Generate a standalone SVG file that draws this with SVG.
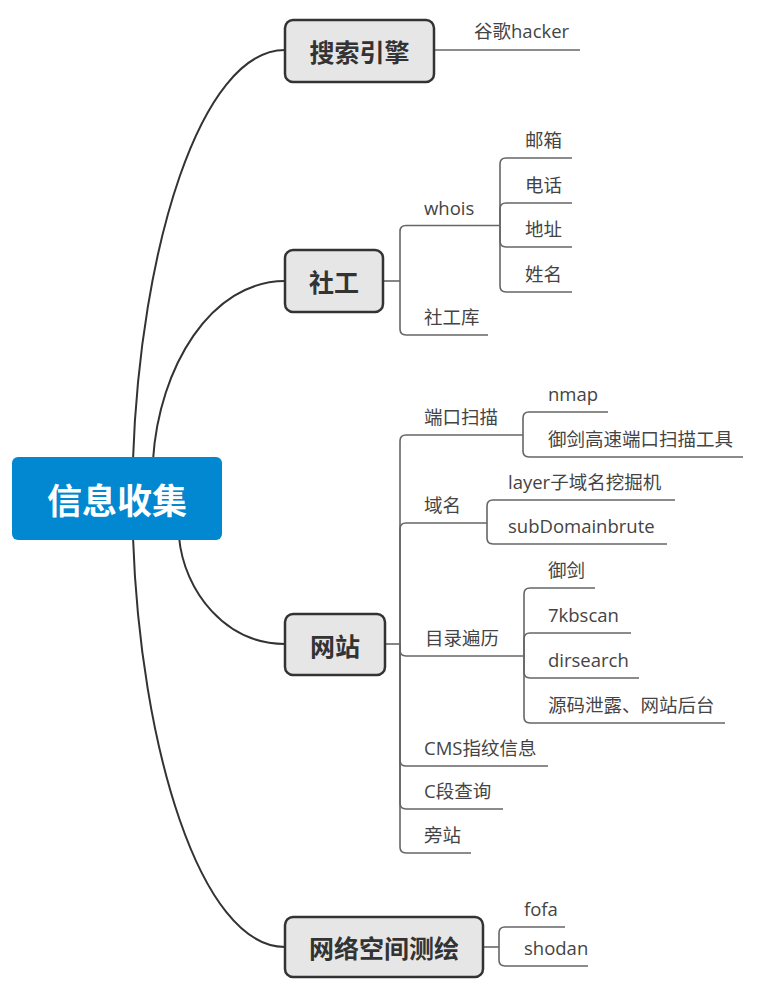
<svg xmlns="http://www.w3.org/2000/svg" width="758" height="993" viewBox="0 0 758 993">
<style>
.box{fill:#e6e6e6;stroke:#333;stroke-width:2.5}
.root{fill:#0288d1}
.rtxt{font-family:"Noto Sans CJK SC","Noto Sans",sans-serif;font-weight:bold;font-size:35px;fill:#fff;text-anchor:middle;dominant-baseline:central}
.btxt{font-family:"Noto Sans CJK SC","Noto Sans",sans-serif;font-weight:bold;font-size:25px;fill:#333;text-anchor:middle;dominant-baseline:central}
.leaf{font-family:"Open Sans","Noto Sans CJK SC",sans-serif;font-size:18.5px;fill:#444}
.curve{fill:none;stroke:#333;stroke-width:2}
.br{fill:none;stroke:#666;stroke-width:1.6}
</style>
<rect width="758" height="993" fill="#fff"/>
<g id="connectors">
<path class="curve" d="M133 460 C140 250 200 50 285 50"/>
<path class="curve" d="M153 460 C159 367 211 281 285 281"/>
<path class="curve" d="M179 537 C184 592 226 644 285 644"/>
<path class="curve" d="M133 537 C140 745 200 947 285 947"/>
<path class="br" d="M434 50 H580"/>
<path class="br" d="M383 281 H400"/>
<path class="br" d="M400 281 V231.5 Q400 225.5 406 225.5 H500"/>
<path class="br" d="M400 281 V329 Q400 335 406 335 H488"/>
<path class="br" d="M500 225.5 V164 Q500 158 506 158 H572"/>
<path class="br" d="M500 225.5 V209 Q500 203 506 203 H572"/>
<path class="br" d="M500 225.5 V241 Q500 247 506 247 H572"/>
<path class="br" d="M500 225.5 V286 Q500 292 506 292 H572"/>
<path class="br" d="M385 644 H400"/>
<path class="br" d="M400 644 V441 Q400 435 406 435 H523"/>
<path class="br" d="M400 644 V529 Q400 523 406 523 H487"/>
<path class="br" d="M400 644 V650 Q400 656 406 656 H524"/>
<path class="br" d="M400 644 V760 Q400 766 406 766 H548"/>
<path class="br" d="M400 644 V803 Q400 809 406 809 H503"/>
<path class="br" d="M400 644 V847 Q400 853 406 853 H471"/>
<path class="br" d="M523 435 V418 Q523 412 529 412 H608"/>
<path class="br" d="M523 435 V451 Q523 457 529 457 H743"/>
<path class="br" d="M487 523 V506 Q487 500 493 500 H675"/>
<path class="br" d="M487 523 V538 Q487 544 493 544 H667"/>
<path class="br" d="M524 656 V594 Q524 588 530 588 H595"/>
<path class="br" d="M524 656 V639 Q524 633 530 633 H631"/>
<path class="br" d="M524 656 V672 Q524 678 530 678 H639"/>
<path class="br" d="M524 656 V717 Q524 723 530 723 H725"/>
<path class="br" d="M483 947 H499"/>
<path class="br" d="M499 947 V933 Q499 927 505 927 H565"/>
<path class="br" d="M499 947 V960 Q499 966 505 966 H588"/>
</g>
<g id="root"><rect class="root" x="12" y="457" width="210" height="83" rx="6"/><text class="rtxt" x="117" y="498.5">信息收集</text></g>
<g id="search"><rect class="box" x="285" y="20" width="149" height="62" rx="8"/><text class="btxt" x="359.5" y="51">搜索引擎</text></g>
<g id="google"><text class="leaf" x="474" y="38">谷歌hacker</text></g>
<g id="social"><rect class="box" x="285" y="250" width="98" height="62" rx="8"/><text class="btxt" x="334" y="281">社工</text></g>
<g id="whois"><text class="leaf" x="424" y="215">whois</text></g>
<g id="email"><text class="leaf" x="525" y="147">邮箱</text></g>
<g id="phone"><text class="leaf" x="525" y="192">电话</text></g>
<g id="address"><text class="leaf" x="525" y="236">地址</text></g>
<g id="name"><text class="leaf" x="525" y="281">姓名</text></g>
<g id="sgk"><text class="leaf" x="424" y="324">社工库</text></g>
<g id="website"><rect class="box" x="285" y="614" width="100" height="61" rx="8"/><text class="btxt" x="335" y="644.5">网站</text></g>
<g id="portscan"><text class="leaf" x="424" y="424">端口扫描</text></g>
<g id="nmap"><text class="leaf" x="548" y="401">nmap</text></g>
<g id="yujianport"><text class="leaf" x="548" y="446">御剑高速端口扫描工具</text></g>
<g id="domain"><text class="leaf" x="424" y="512">域名</text></g>
<g id="layer"><text class="leaf" x="508" y="489">layer子域名挖掘机</text></g>
<g id="subdomain"><text class="leaf" x="508" y="533">subDomainbrute</text></g>
<g id="dirscan"><text class="leaf" x="425" y="645">目录遍历</text></g>
<g id="yujian"><text class="leaf" x="548" y="577">御剑</text></g>
<g id="kbscan"><text class="leaf" x="548" y="622">7kbscan</text></g>
<g id="dirsearch"><text class="leaf" x="548" y="667">dirsearch</text></g>
<g id="leak"><text class="leaf" x="548" y="712">源码泄露、网站后台</text></g>
<g id="cms"><text class="leaf" x="424" y="755">CMS指纹信息</text></g>
<g id="csegment"><text class="leaf" x="424" y="798">C段查询</text></g>
<g id="sidesite"><text class="leaf" x="424" y="842">旁站</text></g>
<g id="cyberspace"><rect class="box" x="285" y="917" width="198" height="60" rx="8"/><text class="btxt" x="384" y="947">网络空间测绘</text></g>
<g id="fofa"><text class="leaf" x="524" y="916">fofa</text></g>
<g id="shodan"><text class="leaf" x="524" y="955">shodan</text></g>
</svg>
